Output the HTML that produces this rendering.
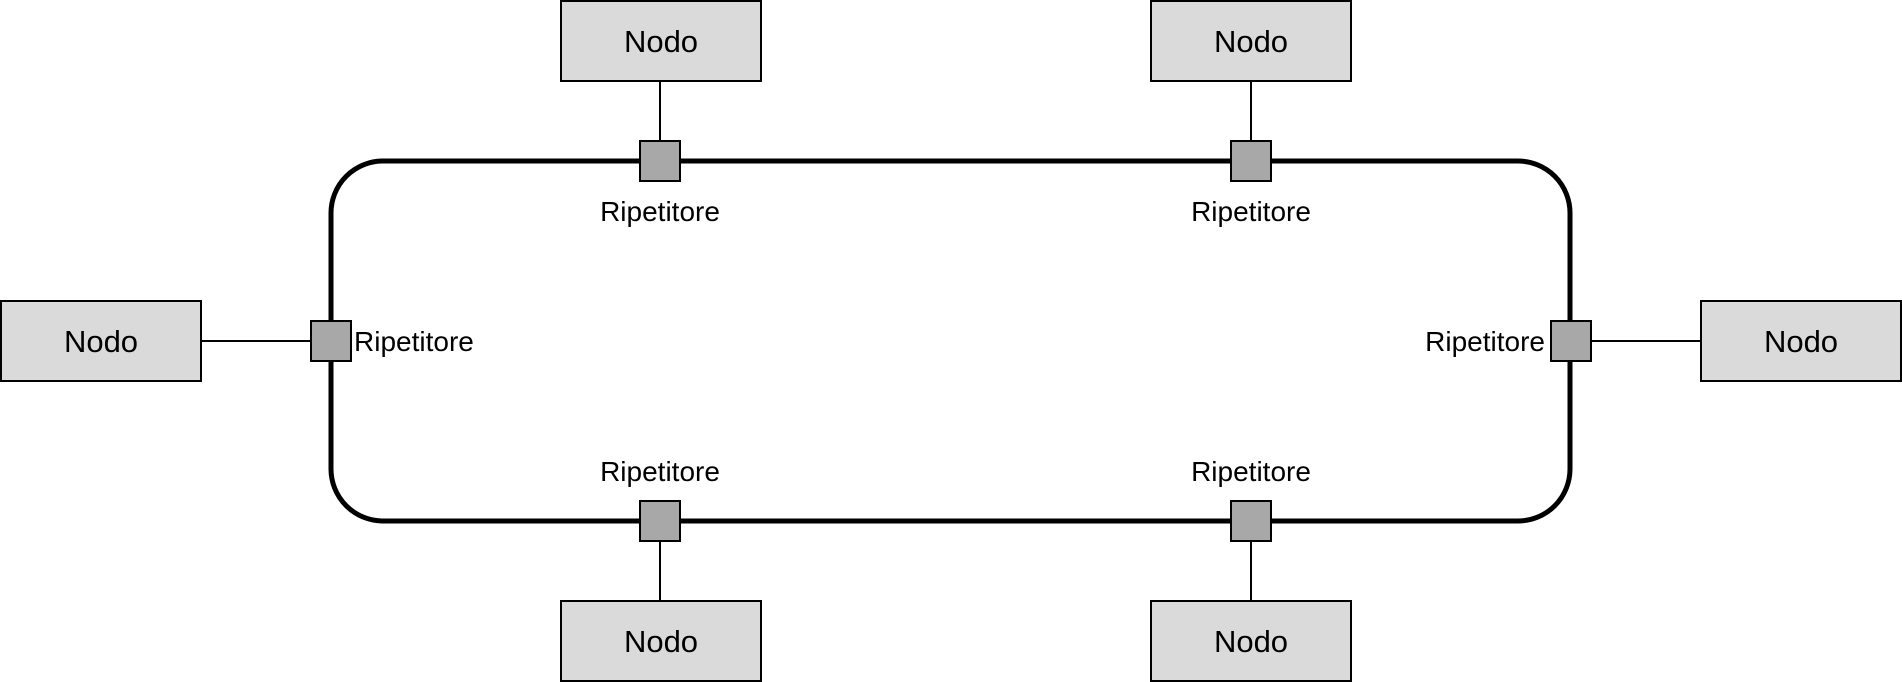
<!DOCTYPE html>
<html><head><style>body{margin:0;background:#fff}svg{display:block}</style></head><body>
<svg width="1902" height="682" xmlns="http://www.w3.org/2000/svg" font-family="Liberation Sans, Arial, sans-serif">
<rect x="331" y="161" width="1239" height="360" rx="52" ry="52" fill="none" stroke="#000" stroke-width="5"/>
<g stroke="#000" stroke-width="2">
<line x1="660" y1="81" x2="660" y2="141"/>
<line x1="1251" y1="81" x2="1251" y2="141"/>
<line x1="660" y1="541" x2="660" y2="601"/>
<line x1="1251" y1="541" x2="1251" y2="601"/>
<line x1="200" y1="341" x2="310" y2="341"/>
<line x1="1591" y1="341" x2="1701" y2="341"/>
</g>
<g fill="#dadada" stroke="#000" stroke-width="2">
<rect x="561" y="1" width="200" height="80"/>
<rect x="1151" y="1" width="200" height="80"/>
<rect x="561" y="601" width="200" height="80"/>
<rect x="1151" y="601" width="200" height="80"/>
<rect x="1" y="301" width="200" height="80"/>
<rect x="1701" y="301" width="200" height="80"/>
</g>
<g fill="#a8a8a8" stroke="#000" stroke-width="2">
<rect x="640" y="141" width="40" height="40"/>
<rect x="1231" y="141" width="40" height="40"/>
<rect x="640" y="501" width="40" height="40"/>
<rect x="1231" y="501" width="40" height="40"/>
<rect x="311" y="321" width="40" height="40"/>
<rect x="1551" y="321" width="40" height="40"/>
</g>
<g font-size="31" text-anchor="middle" fill="#000">
<text x="661" y="52">Nodo</text>
<text x="1251" y="52">Nodo</text>
<text x="661" y="652">Nodo</text>
<text x="1251" y="652">Nodo</text>
<text x="101" y="352">Nodo</text>
<text x="1801" y="352">Nodo</text>
</g>
<g font-size="28" fill="#000">
<text x="660" y="221" text-anchor="middle">Ripetitore</text>
<text x="1251" y="221" text-anchor="middle">Ripetitore</text>
<text x="660" y="481" text-anchor="middle">Ripetitore</text>
<text x="1251" y="481" text-anchor="middle">Ripetitore</text>
<text x="354" y="351">Ripetitore</text>
<text x="1545" y="351" text-anchor="end">Ripetitore</text>
</g>
</svg>
</body></html>
